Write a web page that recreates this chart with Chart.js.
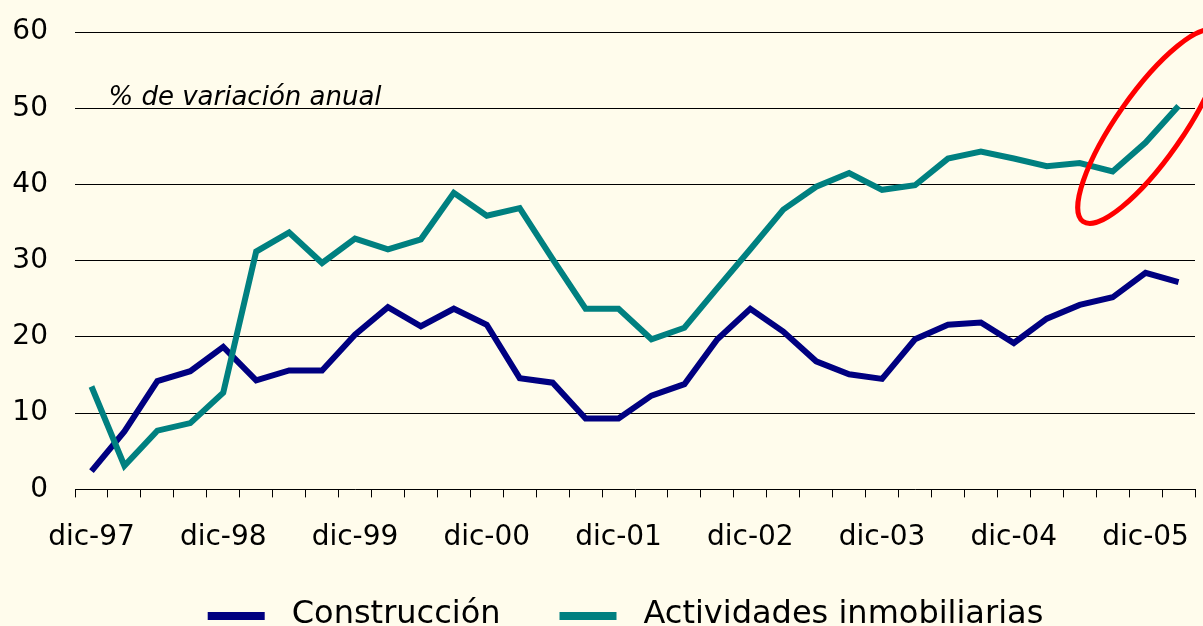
<!DOCTYPE html>
<html>
<head>
<meta charset="utf-8">
<script src="https://cdn.jsdelivr.net/npm/chart.js@4/dist/chart.umd.min.js"></script>
<style>
  html, body { margin: 0; padding: 0; background: #FFFCEC; }
  canvas { display: block; }
</style>
</head>
<body>
<canvas id="chart" width="1203" height="626"></canvas>
<script>
// quarterly periods, dic-97 .. mar-06
const quarters = [
    'dic-97', 'mar-98', 'jun-98', 'sep-98', 'dic-98', 'mar-99', 'jun-99', 'sep-99',
    'dic-99', 'mar-00', 'jun-00', 'sep-00', 'dic-00', 'mar-01', 'jun-01', 'sep-01',
    'dic-01', 'mar-02', 'jun-02', 'sep-02', 'dic-02', 'mar-03', 'jun-03', 'sep-03',
    'dic-03', 'mar-04', 'jun-04', 'sep-04', 'dic-04', 'mar-05', 'jun-05', 'sep-05',
    'dic-05', 'mar-06'
];

const construccion = [
    2.4, 7.6, 14.2, 15.5, 18.7, 14.3, 15.6, 15.6, 20.3, 23.9, 21.4, 23.7,
    21.6, 14.6, 14.0, 9.3, 9.3, 12.3, 13.8, 19.7, 23.7, 20.7, 16.8, 15.1,
    14.5, 19.7, 21.6, 21.9, 19.2, 22.4, 24.2, 25.2, 28.4, 27.2
];

const inmobiliarias = [
    13.5, 3.1, 7.7, 8.7, 12.7, 31.2, 33.7, 29.7, 32.9, 31.5, 32.8, 38.9,
    35.9, 36.9, 30.2, 23.7, 23.7, 19.7, 21.2, 26.4, 31.5, 36.7, 39.7, 41.5,
    39.3, 39.9, 43.4, 44.3, 43.4, 42.4, 42.8, 41.7, 45.5, 50.3
];

const yTicks = [0, 10, 20, 30, 40, 50, 60];

const BG = '#FFFCEC';
const NAVY = '#000080';
const TEAL = '#008080';
const TICK_FONT = "'DejaVu Sans', sans-serif";

// cream background
const backgroundPlugin = {
    id: 'bg',
    beforeDraw: (chart) => {
        const ctx = chart.ctx;
        ctx.save();
        ctx.fillStyle = BG;
        ctx.fillRect(0, 0, chart.width, chart.height);
        ctx.restore();
    }
};

// subtitle text and the red highlight ellipse
const annotationPlugin = {
    id: 'notes',
    afterDraw: (chart) => {
        const ctx = chart.ctx;
        const x = chart.scales.x;
        const y = chart.scales.y;

        ctx.save();
        ctx.font = "italic 26px 'DejaVu Sans', sans-serif";
        ctx.fillStyle = '#000';
        ctx.textBaseline = 'alphabetic';
        ctx.fillText('% de variación anual', x.getPixelForValue(0) + 17, y.getPixelForValue(50.4));

        ctx.strokeStyle = '#FF0000';
        ctx.lineWidth = 5;
        ctx.beginPath();
        ctx.ellipse(x.getPixelForValue(32) + 4, y.getPixelForValue(47.6), 116, 33, -55 * Math.PI / 180, 0, Math.PI * 2);
        ctx.stroke();
        ctx.restore();
    }
};

// legend drawn under the axis: short thick bar + label
const legendPlugin = {
    id: 'lineLegend',
    afterDraw: (chart) => {
        const ctx = chart.ctx;
        const boxW = 57, boxH = 8, gap = 27, itemGap = 59;
        ctx.save();
        ctx.font = "32px 'DejaVu Sans', sans-serif";
        ctx.textBaseline = 'alphabetic';
        const items = chart.data.datasets.map(ds => ({
            text: ds.label,
            color: ds.borderColor,
            w: boxW + gap + ctx.measureText(ds.label).width
        }));
        const total = items.reduce((s, it) => s + it.w, 0) + itemGap * (items.length - 1);
        let cx = chart.width / 2 + 24 - total / 2;
        items.forEach(it => {
            ctx.fillStyle = it.color;
            ctx.fillRect(cx, 612, boxW, boxH);
            ctx.fillStyle = '#000';
            ctx.fillText(it.text, cx + boxW + gap, 623);
            cx += it.w + itemGap;
        });
        ctx.restore();
    }
};

new Chart(document.getElementById('chart'), {
    type: 'line',
    data: {
        labels: quarters,
        datasets: [
            {
                label: 'Construcción',
                data: construccion,
                borderColor: NAVY,
                backgroundColor: NAVY,
                borderWidth: 6,
                pointRadius: 0,
                tension: 0,
                order: 1
            },
            {
                label: 'Actividades inmobiliarias',
                data: inmobiliarias,
                borderColor: TEAL,
                backgroundColor: TEAL,
                borderWidth: 6,
                pointRadius: 0,
                tension: 0,
                order: 0
            }
        ]
    },
    options: {
        responsive: false,
        animation: false,
        layout: {
            padding: { left: 12, right: 8, top: 32, bottom: 47 }
        },
        plugins: {
            tooltip: { enabled: false },
            legend: { display: false }
        },
        scales: {
            x: {
                offset: true,
                border: { display: true, color: '#000', width: 1 },
                grid: {
                    display: true,
                    offset: true,
                    drawOnChartArea: false,
                    drawTicks: true,
                    tickLength: 8,
                    color: '#000'
                },
                ticks: {
                    autoSkip: false,
                    maxRotation: 0,
                    padding: 24,
                    color: '#000',
                    font: { family: TICK_FONT, size: 28 },
                    callback: (val, i) => (i % 4 === 0 ? quarters[i] : '')
                }
            },
            y: {
                min: 0,
                max: 60,
                afterBuildTicks: (axis) => {
                    axis.ticks = yTicks.map(v => ({ value: v }));
                },
                afterFit: (axis) => {
                    axis.width = 63;
                    axis.paddingTop = 0;
                    axis.paddingBottom = 0;
                },
                border: { display: false },
                grid: {
                    color: (c) => (c.tick.value === 0 ? 'rgba(0,0,0,0)' : '#000'),
                    lineWidth: 1,
                    drawTicks: false
                },
                ticks: {
                    padding: 27,
                    color: '#000',
                    font: { family: TICK_FONT, size: 28 }
                }
            }
        }
    },
    plugins: [backgroundPlugin, annotationPlugin, legendPlugin]
});
</script>
</body>
</html>
